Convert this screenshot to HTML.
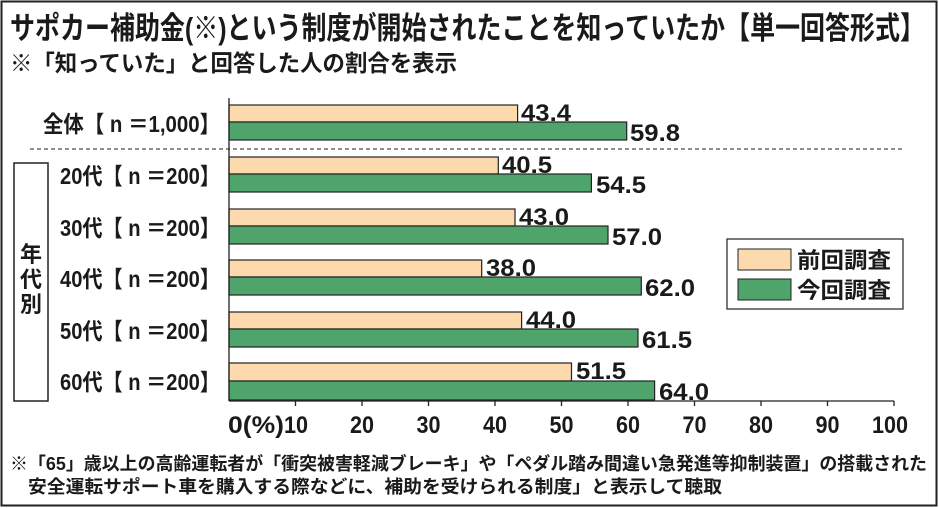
<!DOCTYPE html>
<html><head><meta charset="utf-8"><style>
html,body{margin:0;padding:0;background:#fff}
svg{display:block}
text{font-family:"Liberation Sans","Noto Sans CJK JP",sans-serif;font-weight:bold;fill:#1a1a1a}
</style></head><body>
<svg width="939" height="508" viewBox="0 0 939 508" xmlns="http://www.w3.org/2000/svg">
<rect x="1.5" y="1.5" width="935" height="504" fill="#fff" stroke="#222" stroke-width="2"/>
<text x="10" y="39" font-size="31" textLength="915" lengthAdjust="spacingAndGlyphs">サポカー補助金(※)という制度が開始されたことを知っていたか【単一回答形式】</text>
<text x="10" y="71" font-size="23" textLength="447" lengthAdjust="spacingAndGlyphs">※「知っていた」と回答した人の割合を表示</text>
<line x1="30" y1="149" x2="905" y2="149" stroke="#222" stroke-width="1" stroke-dasharray="4,3"/>
<rect x="14" y="163" width="34" height="238" fill="#fff" stroke="#222" stroke-width="1.5"/>
<text x="31" y="262" font-size="22" text-anchor="middle">年</text>
<text x="31" y="287" font-size="22" text-anchor="middle">代</text>
<text x="31" y="312" font-size="22" text-anchor="middle">別</text>
<g font-size="23">
<text x="220" y="132" text-anchor="end" textLength="177" lengthAdjust="spacingAndGlyphs">全体【 n ＝1,000】</text>
<text x="220" y="184" text-anchor="end" textLength="160" lengthAdjust="spacingAndGlyphs">20代【 n ＝200】</text>
<text x="220" y="236" text-anchor="end" textLength="160" lengthAdjust="spacingAndGlyphs">30代【 n ＝200】</text>
<text x="220" y="287" text-anchor="end" textLength="160" lengthAdjust="spacingAndGlyphs">40代【 n ＝200】</text>
<text x="220" y="339" text-anchor="end" textLength="160" lengthAdjust="spacingAndGlyphs">50代【 n ＝200】</text>
<text x="220" y="390" text-anchor="end" textLength="160" lengthAdjust="spacingAndGlyphs">60代【 n ＝200】</text>
</g>
<g stroke="#222" stroke-width="1.2">
<rect x="229" y="105" width="288.6" height="17" fill="#fdd9ae"/>
<rect x="229" y="122" width="397.7" height="18" fill="#4fa46c"/>
<rect x="229" y="157" width="269.3" height="17" fill="#fdd9ae"/>
<rect x="229" y="174" width="362.4" height="18" fill="#4fa46c"/>
<rect x="229" y="209" width="286" height="17" fill="#fdd9ae"/>
<rect x="229" y="226" width="379" height="18" fill="#4fa46c"/>
<rect x="229" y="260" width="252.7" height="17" fill="#fdd9ae"/>
<rect x="229" y="277" width="412.3" height="18" fill="#4fa46c"/>
<rect x="229" y="312" width="292.6" height="17" fill="#fdd9ae"/>
<rect x="229" y="329" width="409" height="18" fill="#4fa46c"/>
<rect x="229" y="363" width="342.5" height="18" fill="#fdd9ae"/>
<rect x="229" y="381" width="425.6" height="19" fill="#4fa46c"/>
</g>
<g font-size="24">
<text x="521" y="121" textLength="50" lengthAdjust="spacingAndGlyphs">43.4</text>
<text x="630" y="141" textLength="50" lengthAdjust="spacingAndGlyphs">59.8</text>
<text x="502" y="173" textLength="50" lengthAdjust="spacingAndGlyphs">40.5</text>
<text x="596" y="193" textLength="50" lengthAdjust="spacingAndGlyphs">54.5</text>
<text x="519" y="225" textLength="50" lengthAdjust="spacingAndGlyphs">43.0</text>
<text x="612" y="245" textLength="50" lengthAdjust="spacingAndGlyphs">57.0</text>
<text x="486" y="276" textLength="50" lengthAdjust="spacingAndGlyphs">38.0</text>
<text x="645" y="296" textLength="50" lengthAdjust="spacingAndGlyphs">62.0</text>
<text x="526" y="328" textLength="50" lengthAdjust="spacingAndGlyphs">44.0</text>
<text x="642" y="348" textLength="50" lengthAdjust="spacingAndGlyphs">61.5</text>
<text x="576" y="379" textLength="50" lengthAdjust="spacingAndGlyphs">51.5</text>
<text x="659" y="400" textLength="50" lengthAdjust="spacingAndGlyphs">64.0</text>
</g>
<g stroke="#222" stroke-width="1.3">
<line x1="229" y1="98" x2="229" y2="401"/>
<line x1="229" y1="401" x2="894" y2="401"/>
<line x1="295.5" y1="401" x2="295.5" y2="406"/><line x1="362" y1="401" x2="362" y2="406"/>
<line x1="428.5" y1="401" x2="428.5" y2="406"/><line x1="495" y1="401" x2="495" y2="406"/>
<line x1="561.5" y1="401" x2="561.5" y2="406"/><line x1="628" y1="401" x2="628" y2="406"/>
<line x1="694.5" y1="401" x2="694.5" y2="406"/><line x1="761" y1="401" x2="761" y2="406"/>
<line x1="827.5" y1="401" x2="827.5" y2="406"/><line x1="894" y1="401" x2="894" y2="406"/>
</g>
<g font-size="24" text-anchor="middle">
<text x="256" y="433" textLength="56" lengthAdjust="spacingAndGlyphs">0(%)</text>
<text x="296" y="433" textLength="24" lengthAdjust="spacingAndGlyphs">10</text><text x="362" y="433" textLength="24" lengthAdjust="spacingAndGlyphs">20</text><text x="428.5" y="433" textLength="24" lengthAdjust="spacingAndGlyphs">30</text>
<text x="495" y="433" textLength="24" lengthAdjust="spacingAndGlyphs">40</text><text x="561.5" y="433" textLength="24" lengthAdjust="spacingAndGlyphs">50</text><text x="628" y="433" textLength="24" lengthAdjust="spacingAndGlyphs">60</text>
<text x="694.5" y="433" textLength="24" lengthAdjust="spacingAndGlyphs">70</text><text x="761" y="433" textLength="24" lengthAdjust="spacingAndGlyphs">80</text><text x="827.5" y="433" textLength="24" lengthAdjust="spacingAndGlyphs">90</text>
<text x="890" y="433" textLength="36" lengthAdjust="spacingAndGlyphs">100</text>
</g>
<rect x="727" y="239" width="176" height="70" fill="#fff" stroke="#222" stroke-width="1.2"/>
<rect x="738" y="249" width="53" height="21" fill="#fdd9ae" stroke="#222" stroke-width="1"/>
<rect x="738" y="279" width="53" height="21" fill="#4fa46c" stroke="#222" stroke-width="1"/>
<text x="797" y="268" font-size="22" textLength="94" lengthAdjust="spacingAndGlyphs">前回調査</text>
<text x="797" y="298" font-size="22" textLength="94" lengthAdjust="spacingAndGlyphs">今回調査</text>
<text x="10" y="470" font-size="18" textLength="917" lengthAdjust="spacingAndGlyphs">※「65」歳以上の高齢運転者が「衝突被害軽減ブレーキ」や「ペダル踏み間違い急発進等抑制装置」の搭載された</text>
<text x="28" y="493" font-size="18" textLength="694" lengthAdjust="spacingAndGlyphs">安全運転サポート車を購入する際などに、補助を受けられる制度」と表示して聴取</text>
</svg>
</body></html>
